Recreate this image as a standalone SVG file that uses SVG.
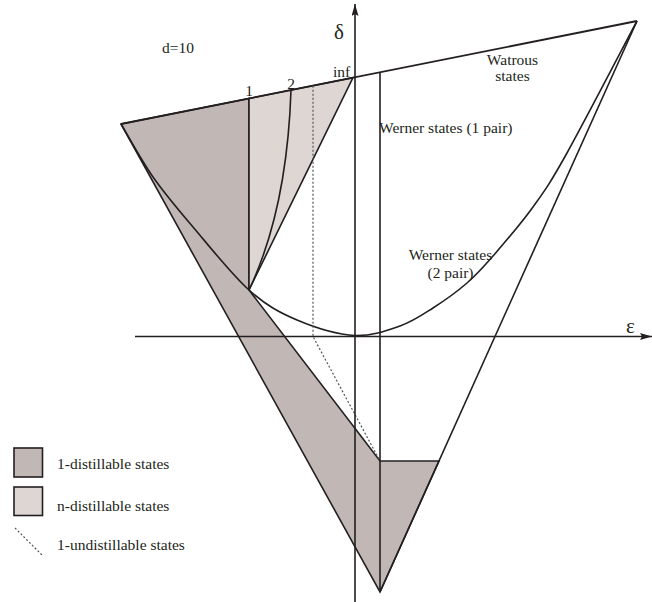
<svg xmlns="http://www.w3.org/2000/svg" width="652" height="602" viewBox="0 0 652 602">
<defs>
<style>
.t{font-family:"Liberation Serif","Times New Roman",serif;font-size:15.5px;fill:#231f20}
.g{font-family:"Liberation Serif","Times New Roman",serif;font-size:21px;fill:#231f20}
.ln{fill:none;stroke:#231f20;stroke-width:1.6}
.dk{fill:#c1b8b6;stroke:#231f20;stroke-width:1.6;stroke-linejoin:miter}
.lt{fill:#ddd6d3;stroke:#231f20;stroke-width:1.6}
.dot{fill:none;stroke:#555;stroke-width:1.2;stroke-dasharray:2 2}
</style>
<marker id="arr" markerUnits="userSpaceOnUse" markerWidth="13" markerHeight="8" refX="12" refY="3.5" orient="auto">
<path d="M0,0 L12,3.5 L0,7 L2,3.5 z" fill="#231f20"/>
</marker>
</defs>
<rect width="652" height="602" fill="#fff"/>

<g id="one-distillable-region">
<polygon class="dk" points="121,124 249,98.45 249,290 380,461 439,461 380,592"/>
</g>
<g id="n-distillable-region">
<polygon class="lt" points="249,98.45 353,77.7 249,290"/>
</g>

<g id="connectors">
<path id="curve-2" class="ln" d="M291,90.1 Q287,210 249,290"/>
<path id="werner-2-pair" class="ln" d="M121,124 C126.3,132.8 141,159.8 153,177 C165,194.2 177,208.2 193,227 C209,245.8 231.7,274.5 249,290 C266.3,305.5 279.3,312.5 297,320 C314.7,327.5 337.8,334.5 355,335.5 C372.2,336 387,330.5 400,326 C413,321.5 421.8,315.2 433,308 C444.2,300.8 457,291.7 467,283 C477,274.3 482,268.7 493,256 C504,243.3 520.7,224.2 533,207 C545.3,189.8 549.7,184 567,153 C584.3,122 625.3,43 637,21"/>
<line id="watrous-line" class="ln" x1="121" y1="124" x2="637" y2="21" style="stroke-width:1.8"/>
<line id="right-edge" class="ln" x1="637" y1="21" x2="380" y2="592"/>
<line id="werner-1-pair" class="ln" x1="380" y1="72.3" x2="380" y2="592"/>
<path id="undistillable" class="dot" d="M313,85.7 V336.5 L380,461"/>
<line id="delta-axis" class="ln" x1="355" y1="602" x2="355" y2="4" marker-end="url(#arr)"/>
<line id="epsilon-axis" class="ln" x1="135" y1="336.5" x2="652" y2="336.5" marker-end="url(#arr)"/>
</g>

<g id="labels">
<text class="t" x="162" y="52.5">d=10</text>
<text class="g" x="334" y="39">δ</text>
<text class="g" x="626" y="333">ε</text>
<text class="t" x="249" y="96" text-anchor="middle">1</text>
<text class="t" x="291" y="88.5" text-anchor="middle">2</text>
<text class="t" x="333" y="77">inf</text>
<text class="t" x="512.5" y="65" text-anchor="middle">Watrous</text>
<text class="t" x="512.5" y="80.5" text-anchor="middle">states</text>
<text class="t" x="379" y="133">Werner states (1 pair)</text>
<text class="t" x="450.5" y="260" text-anchor="middle">Werner states</text>
<text class="t" x="450.5" y="278" text-anchor="middle">(2 pair)</text>
</g>

<g id="legend-1-distillable">
<rect class="dk" x="14" y="448" width="28.5" height="29"/>
<text class="t" x="57" y="468.5">1-distillable states</text>
</g>
<g id="legend-n-distillable">
<rect class="lt" x="14" y="487" width="28.5" height="28.5"/>
<text class="t" x="57" y="510.5">n-distillable states</text>
</g>
<g id="legend-1-undistillable">
<path class="dot" d="M15,528 L43,556"/>
<text class="t" x="57" y="550">1-undistillable states</text>
</g>
</svg>
